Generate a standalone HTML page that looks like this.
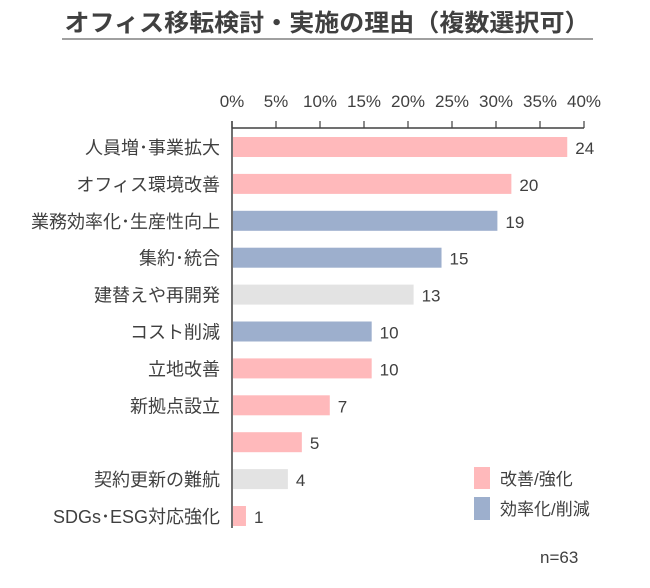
<!DOCTYPE html>
<html><head><meta charset="utf-8"><style>
body{margin:0;background:#fff;width:650px;height:583px;overflow:hidden;font-family:"Liberation Sans","Noto Sans CJK JP",sans-serif;}
</style></head><body>
<svg width="650" height="583" xmlns="http://www.w3.org/2000/svg" font-family="Liberation Sans, Noto Sans CJK JP, sans-serif">
<text x="327" y="31" text-anchor="middle" font-size="24" font-weight="bold" fill="#404040" textLength="525" lengthAdjust="spacingAndGlyphs">オフィス移転検討・実施の理由（複数選択可）</text>
<line x1="62" y1="39" x2="593" y2="39" stroke="#808080" stroke-width="1.5"/>
<g id="axis"></g>
<g id="bars"></g>
<rect x="474" y="467" width="16" height="22" fill="#ffb9bb"/>
<text x="500" y="485" font-size="17" fill="#404040">改善/強化</text>
<rect x="474" y="497" width="16" height="23" fill="#9dafcd"/>
<text x="500" y="515" font-size="17" fill="#404040">効率化/削減</text>
<text x="540" y="563" font-size="17" fill="#404040">n=63</text>
</svg>
<script>
const categories=["人員増･事業拡大","オフィス環境改善","業務効率化･生産性向上","集約･統合","建替えや再開発","コスト削減","立地改善","新拠点設立","","契約更新の難航","SDGs･ESG対応強化"];
const counts=[24,20,19,15,13,10,10,7,5,4,1];
const groups=["p","p","b","b","g","b","p","p","p","g","p"];
const tickValues=[0,5,10,15,20,25,30,35,40];
const total=63;
const colors={p:"#ffb9bb",b:"#9dafcd",g:"#e3e3e3"};
const NS="http://www.w3.org/2000/svg";
const x=v=>232+v*(584-232)/40;
const y=i=>137+i*36.9;
const ax=document.getElementById('axis'),bg=document.getElementById('bars');
function mk(t,a,p){const e=document.createElementNS(NS,t);for(const k in a)e.setAttribute(k,a[k]);p.appendChild(e);return e;}
let l=mk('line',{x1:x(0),y1:128,x2:x(40),y2:128,stroke:'#404040','stroke-width':1.5},ax);


l=mk('line',{x1:x(0),y1:121,x2:x(0),y2:528,stroke:'#404040','stroke-width':1.5},ax);


tickValues.forEach(v=>{
 const t=mk('line',{x1:x(v),y1:121,x2:x(v),y2:128,stroke:'#404040','stroke-width':1.2},ax);
 
 
 const tx=mk('text',{x:x(v),y:107,'text-anchor':'middle','font-size':17,fill:'#404040'},ax);
 tx.textContent=v+'%';
 
 
});
categories.forEach((c,i)=>{
 const pct=counts[i]/total*100;
 const r=mk('rect',{x:x(0)+1,y:y(i),width:x(pct)-x(0)-1,height:20,fill:colors[groups[i]]},bg);
 
 
 const vt=mk('text',{x:x(pct)+8,y:y(i)+17,'font-size':17,fill:'#404040'},bg);
 vt.textContent=counts[i];
 
 
 const ct=mk('text',{x:220,y:y(i)+17,'text-anchor':'end','font-size':18,fill:'#404040'},bg);
 ct.textContent=c;
 
 
});
</script>
</body></html>
